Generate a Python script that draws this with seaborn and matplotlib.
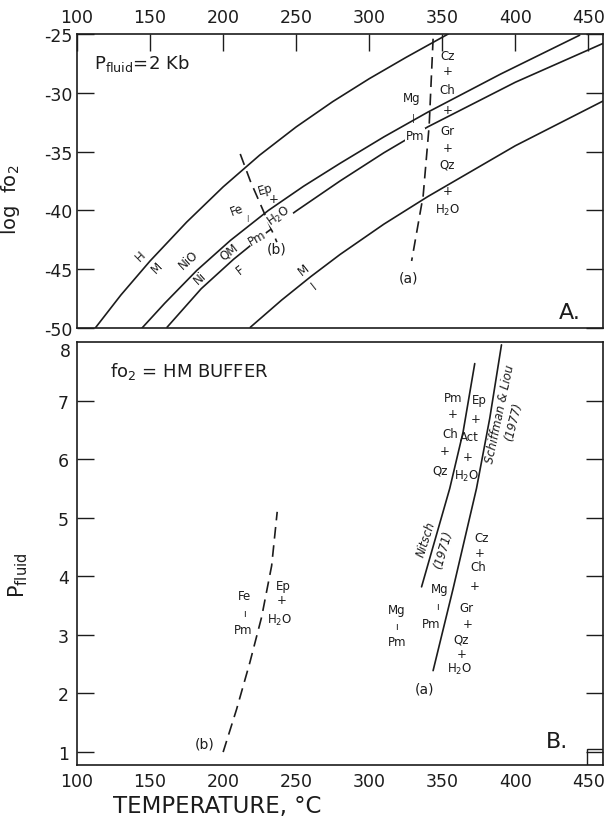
import numpy as np
import pandas as pd
import matplotlib
matplotlib.use("Agg")
import matplotlib.pyplot as plt
import seaborn as sns
from matplotlib.patches import Rectangle

# ---- data ----
# panel A: buffer curves at P fluid = 2 kb (T in C, log fO2)
hm_T = [112.5, 130, 150, 175, 200, 225, 250, 275, 300, 325, 354]
hm_logf = [-50.0, -47.2, -44.3, -41.0, -38.0, -35.3, -32.9, -30.75, -28.8, -27.0, -25.0]

nno_T = [144.5, 160, 182, 205, 231, 255, 280, 310, 340, 390, 444]
nno_logf = [-50.0, -47.9, -45.1, -42.55, -40.0, -37.95, -36.0, -33.75, -31.65, -28.4, -25.1]

qfm_T = [161.6, 185, 207.2, 230, 250, 280, 310, 340, 400, 460]
qfm_logf = [-49.94, -46.66, -44.15, -41.85, -40.05, -37.5, -35.1, -32.9, -29.1, -25.8]

mi_T = [218.6, 240, 260, 280, 310, 340, 400, 460]
mi_logf = [-49.94, -47.63, -45.63, -43.75, -41.17, -38.83, -34.5, -30.7]

# reactions (a) and (b) in panel A
ra_T = [343.7, 341.0, 336.9, 329.0]
ra_logf = [-25.4, -32.8, -38.75, -44.3]
rb_T = [211.7, 218.6, 236.8]
rb_logf = [-35.2, -37.5, -42.7]

# panel B: fO2 = HM buffer (T in C, P fluid in kb)
bb_T = [200.0, 209.2, 218.3, 226.3, 233.2, 237.0]
bb_P = [1.0, 1.73, 2.53, 3.3, 4.18, 5.1]
nitsch_T = [335.8, 355.1, 364.2, 372.2]
nitsch_P = [3.82, 5.5, 6.46, 7.63]
schiff_T = [343.7, 357.4, 373.4, 382.5, 390.5]
schiff_P = [2.39, 3.79, 5.5, 6.7, 7.95]

temp_ticks = [100, 150, 200, 250, 300, 350, 400, 450]
logf_ticks = [-25, -30, -35, -40, -45, -50]
p_ticks = [1, 2, 3, 4, 5, 6, 7]

sns.set_style("white")
plt.rcParams["font.family"] = ["DejaVu Sans"]
plt.rcParams["axes.unicode_minus"] = False

ink = "#1c1c1c"
dash = (0, (7, 4))
lab = dict(fontsize=8.5, color=ink, ha="center", va="center")
gap = dict(boxstyle="square,pad=0.05", fc="white", ec="none")

fig = plt.figure(figsize=(6.06, 8.2), dpi=100)
ax1 = fig.add_axes([0.1271, 0.5988, 0.868, 0.3585])
ax2 = fig.add_axes([0.1271, 0.0659, 0.868, 0.5159])

# ---------- panel A ----------
for tt, ff in [(hm_T, hm_logf), (nno_T, nno_logf), (qfm_T, qfm_logf), (mi_T, mi_logf)]:
    sns.lineplot(x=tt, y=ff, ax=ax1, color=ink, lw=1.2, sort=False, estimator=None)
for tt, ff in [(ra_T, ra_logf), (rb_T, rb_logf)]:
    sns.lineplot(x=tt, y=ff, ax=ax1, color=ink, lw=1.2, sort=False,
                 estimator=None, linestyle=dash)

ax1.set_xlim(100, 460)
ax1.set_ylim(-50, -25)
ax1.set_xticks(temp_ticks)
ax1.set_yticks(logf_ticks)
ax1.xaxis.tick_top()
ax1.tick_params(axis="x", direction="in", length=12, width=1, top=True,
                bottom=False, labeltop=True, labelbottom=False,
                labelsize=12.5, pad=6, colors=ink)
ax1.tick_params(axis="y", direction="in", length=12, width=1, left=True,
                right=True, labelsize=12.5, pad=3, colors=ink)
ax1.set_xlabel("")
ax1.set_ylabel("log  fo$_2$", fontsize=14, color=ink)
ax1.yaxis.set_label_coords(-0.105, 0.44)

ax1.text(0.032, 0.904, r"P$_{\rm fluid}$=2 Kb", transform=ax1.transAxes,
         fontsize=13, color=ink, ha="left", va="center")
ax1.text(143.3, -43.85, "H", rotation=45, **lab)
ax1.text(154.7, -44.84, "M", rotation=45, **lab)
ax1.text(176.4, -44.13, "NiO", rotation=42, **lab)
ax1.text(184.3, -45.69, "Ni", rotation=42, **lab)
ax1.text(203.8, -43.43, "QM", rotation=38, **lab)
ax1.text(211.7, -44.98, "F", rotation=38, **lab)
ax1.text(223.1, -42.29, "Pm", rotation=30, bbox=gap, **lab)
ax1.text(209.4, -39.88, "Fe", rotation=20, **lab)
ax1.text(216.3, -40.6, "|", fontsize=5, color=ink, ha="center", va="center")
ax1.text(228.8, -38.18, "Ep", rotation=15, **lab)
ax1.text(234.5, -39.03, "+", **lab)
ax1.text(238.0, -40.45, "H$_2$O", rotation=35, bbox=gap, **lab)
ax1.text(236.8, -43.28, "(b)", fontsize=10, color=ink, ha="center", va="center")
ax1.text(255.1, -44.98, "M", rotation=38, **lab)
ax1.text(261.9, -46.4, "I", rotation=38, **lab)

right_a = ["Cz", "+", "Ch", "+", "Gr", "+", "Qz", "+", "H$_2$O"]
right_a_y = [-26.85, -28.12, -29.68, -31.38, -33.22, -34.63, -36.05, -38.32, -39.88]
for s, yy in zip(right_a, right_a_y):
    ax1.text(353.5, yy, s, **lab)
ax1.text(328.9, -30.38, "Mg", **lab)
ax1.text(330.0, -32.08, "|", fontsize=6, color=ink, ha="center", va="center")
ax1.text(331.2, -33.59, "Pm", bbox=gap, **lab)
ax1.text(326.6, -45.69, "(a)", fontsize=10, color=ink, ha="center", va="center")
ax1.text(437.2, -48.66, "A.", fontsize=16, color=ink, ha="center", va="center")

# ---------- panel B ----------
sns.lineplot(x=bb_T, y=bb_P, ax=ax2, color=ink, lw=1.2, sort=False,
             estimator=None, linestyle=dash)
sns.lineplot(x=nitsch_T, y=nitsch_P, ax=ax2, color=ink, lw=1.2, sort=False, estimator=None)
sns.lineplot(x=schiff_T, y=schiff_P, ax=ax2, color=ink, lw=1.2, sort=False, estimator=None)

ax2.set_xlim(100, 460)
ax2.set_ylim(0.78, 8.0)
ax2.set_xticks(temp_ticks)
ax2.set_yticks(p_ticks)
ax2.tick_params(axis="x", direction="in", length=12, width=1, labelsize=12.5,
                pad=5, colors=ink)
ax2.tick_params(axis="y", direction="in", length=12, width=1, left=True,
                right=True, labelsize=12.5, pad=6, colors=ink)
# the "8" at the top corner sits a little below the frame, clear of "-50"
ax2.text(-0.012, 8.0, "8", transform=ax2.get_yaxis_transform(), fontsize=12.5,
         color=ink, ha="right", va="top")
ax2.set_xlabel("")
ax2.set_ylabel(r"P$_{\rm fluid}$", fontsize=15, color=ink)
ax2.yaxis.set_label_coords(-0.09, 0.45)

ax2.text(122.6, 7.52, "fo$_2$ = HM BUFFER", fontsize=13, color=ink,
         ha="left", va="center")
ax2.text(187.6, 1.14, "(b)", fontsize=10, color=ink, ha="center", va="center")
ax2.text(214.9, 3.67, "Fe", **lab)
ax2.text(214.9, 3.38, "ı", fontsize=7, color=ink, ha="center", va="center")
ax2.text(213.8, 3.10, "Pm", **lab)
ax2.text(241.1, 3.84, "Ep", **lab)
ax2.text(240.0, 3.60, "+", **lab)
ax2.text(238.9, 3.27, "H$_2$O", **lab)

left_b = ["Pm", "+", "Ch", "+", "Qz"]
left_b_x = [357.4, 357.4, 355.1, 351.7, 348.3]
left_b_y = [7.05, 6.78, 6.44, 6.15, 5.81]
for s, xx, yy in zip(left_b, left_b_x, left_b_y):
    ax2.text(xx, yy, s, **lab)
mid_b = ["Ep", "+", "Act", "+", "H$_2$O"]
mid_b_x = [375.6, 372.9, 368.8, 367.6, 366.5]
mid_b_y = [7.01, 6.69, 6.38, 6.04, 5.72]
for s, xx, yy in zip(mid_b, mid_b_x, mid_b_y):
    ax2.text(xx, yy, s, **lab)
low_b = ["Cz", "+", "Ch", "+", "Gr", "+", "Qz", "+", "H$_2$O"]
low_b_x = [376.8, 375.6, 374.5, 372.2, 366.5, 367.6, 363.1, 363.1, 362.0]
low_b_y = [4.67, 4.41, 4.16, 3.84, 3.47, 3.19, 2.93, 2.68, 2.42]
for s, xx, yy in zip(low_b, low_b_x, low_b_y):
    ax2.text(xx, yy, s, **lab)

ax2.text(348.3, 3.79, "Mg", **lab)
ax2.text(346.4, 3.50, "ı", fontsize=7, color=ink, ha="center", va="center")
ax2.text(342.6, 3.19, "Pm", **lab)
ax2.text(318.9, 3.44, "Mg", **lab)
ax2.text(318.9, 3.15, "ı", fontsize=7, color=ink, ha="center", va="center")
ax2.text(318.9, 2.88, "Pm", **lab)
ax2.text(338.0, 2.08, "(a)", fontsize=10, color=ink, ha="center", va="center")

ax2.text(338.7, 4.64, "Nitsch", rotation=72, fontsize=8.5, style="italic",
         color=ink, ha="center", va="center")
ax2.text(350.5, 4.47, "(1971)", rotation=74, fontsize=8.5, style="italic",
         color=ink, ha="center", va="center")
ax2.text(389.3, 6.78, "Schiffman & Liou", rotation=78, fontsize=8.5,
         style="italic", color=ink, ha="center", va="center")
ax2.text(398.4, 6.66, "(1977)", rotation=76, fontsize=8.5, style="italic",
         color=ink, ha="center", va="center")
ax2.text(428.3, 1.19, "B.", fontsize=16, color=ink, ha="center", va="center")

ax2.add_patch(Rectangle((0.9696, 0.0), 0.0304, 0.038, transform=ax2.transAxes,
                        fill=False, ec=ink, lw=1))

for ax in (ax1, ax2):
    for sp in ax.spines.values():
        sp.set_color(ink)
        sp.set_linewidth(1.2)

fig.text(113 / 606, 1 - 807 / 820, "TEMPERATURE, °C", fontsize=16.5,
         color=ink, ha="left", va="center")

fig.savefig("out.png", dpi=100)
